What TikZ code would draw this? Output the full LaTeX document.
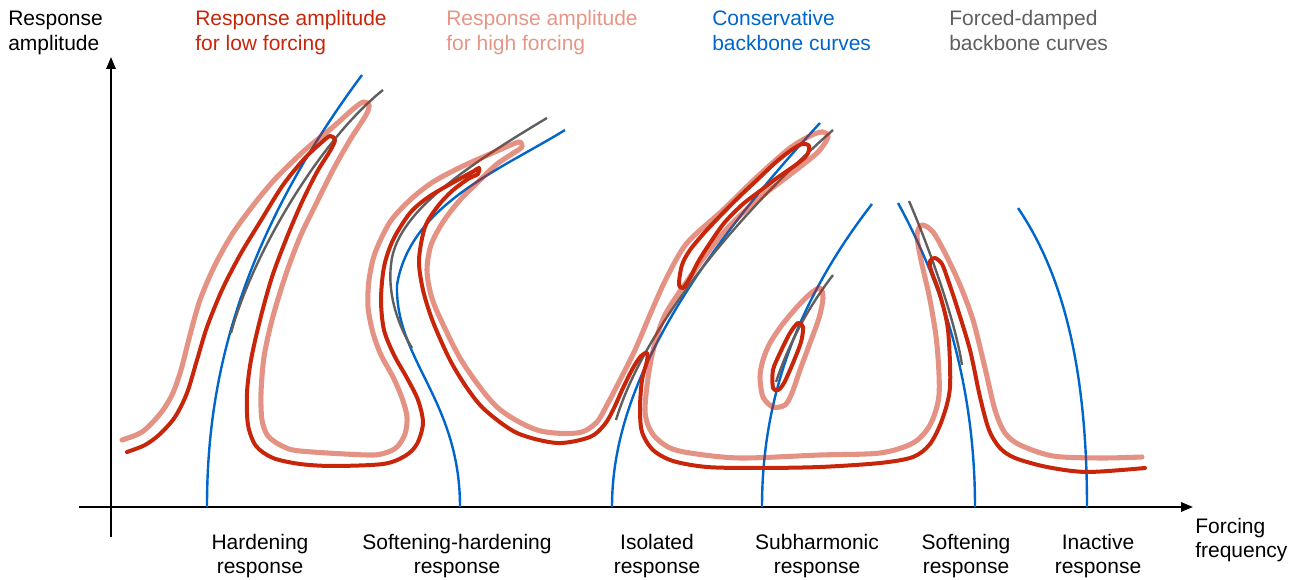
\documentclass[tikz,border=0pt]{standalone}
\usepackage{fontspec}
\setmainfont{Liberation Sans}
\usetikzlibrary{arrows.meta}
\definecolor{cred}{RGB}{200,38,10}
\definecolor{cpink}{RGB}{230,150,135}
\definecolor{cblue}{RGB}{0,102,204}
\definecolor{cgray}{RGB}{95,95,95}
\tikzset{
  lbl/.style={inner sep=0pt, font=\fontsize{15.75pt}{18pt}\selectfont},
  axisline/.style={line width=1.6pt, black, -{Triangle[length=9pt,width=7pt]}},
  lowresp/.style={line width=3pt, cred, line cap=round, line join=round},
  highresp/.style={line width=3.8pt, cred, draw opacity=0.5, line cap=round, line join=round},
  consbb/.style={line width=1.8pt, cblue},
  dampbb/.style={line width=1.8pt, cgray},
}
\begin{document}
\begin{tikzpicture}[x=0.75pt,y=-0.75pt]
\useasboundingbox (0,0) rectangle (1303,580);

% axes
\coordinate (yb) at (111,537);
\coordinate (yt) at (111,57);
\coordinate (xl) at (79,507);
\coordinate (xr) at (1193,507);
\draw[axisline] (yb) -- (yt);
\draw[axisline] (xl) -- (xr);

% conservative backbones
\coordinate (bh0) at (207,507); \coordinate (bh1) at (362,75);
\draw[consbb] (bh0) .. controls (207,400) and (228,255) .. (bh1);
\coordinate (bs0) at (460,507); \coordinate (bsm) at (397,285); \coordinate (bs1) at (565,130);
\draw[consbb] (bs1) .. controls (500,170) and (410,205) .. (bsm) .. controls (395,360) and (460,400) .. (bs0);
\coordinate (bi0) at (612,507); \coordinate (bi1) at (820,123);
\draw[consbb] (bi0) .. controls (612,420) and (652,305) .. (bi1);
\coordinate (bu0) at (762,507); \coordinate (bu1) at (872,204);
\draw[consbb] (bu0) .. controls (762,410) and (790,310) .. (bu1);
\coordinate (bf0) at (975,507); \coordinate (bf1) at (898,203);
\draw[consbb] (bf1) .. controls (940,280) and (975,380) .. (bf0);
\coordinate (bn0) at (1087,507); \coordinate (bn1) at (1018,208);
\draw[consbb] (bn1) .. controls (1060,270) and (1087,360) .. (bn0);

% forced-damped backbones
\coordinate (gh0) at (231,333); \coordinate (gh1) at (383,90);
\draw[dampbb] (gh0) .. controls (252,255) and (320,140) .. (gh1);
\coordinate (gs0) at (412,348); \coordinate (gsm) at (391,265); \coordinate (gs1) at (547,118);
\draw[dampbb] (gs0) .. controls (395,320) and (388,290) .. (gsm) .. controls (395,215) and (460,170) .. (gs1);
\coordinate (gi0) at (616,420); \coordinate (gi1) at (833,130);
\draw[dampbb] (gi0) .. controls (640,340) and (720,230) .. (gi1);
\coordinate (gu0) at (776,382); \coordinate (gu1) at (833,275);
\draw[dampbb] (gu0) .. controls (790,340) and (810,305) .. (gu1);
\coordinate (gf0) at (962,365); \coordinate (gf1) at (909,201);
\draw[dampbb] (gf1) .. controls (930,250) and (955,320) .. (gf0);

% high forcing response
\draw[highresp] plot[smooth] coordinates {(122,440) (142,432) (160,414) (172,395) (181,370) (190,335) (200,300) (215,265) (233,233) (255,203) (277,177) (305,150) (333,127) (352,110) (363,102) (369,105) (366,115) (350,140) (333,170) (317,202) (300,237) (285,277) (272,320) (264,357) (261,393) (262,420) (268,436) (282,446) (300,451) (367,455) (385,453) (397,447) (405,434) (407,417) (402,398) (393,377) (381,355) (373,333) (368,307) (369,280) (375,253) (390,222) (410,200) (433,182) (463,166) (497,151) (513,144) (520,142) (522,147) (512,154) (497,164) (480,180) (460,200) (443,222) (431,245) (427,270) (431,295) (440,318) (463,363) (497,407) (537,430) (577,433) (596,423) (608,403) (620,380) (635,350) (652,310) (667,277) (687,243) (723,210) (757,177) (790,148) (812,135) (823,132) (828,137) (817,153) (787,177) (757,200) (723,233) (690,277) (664,317) (651,360) (645,410) (652,433) (668,447) (690,453) (740,458) (820,455) (880,453) (913,443) (930,425) (939,395) (937,345) (930,300) (921,260) (917,235) (922,225) (933,232) (946,255) (960,285) (973,320) (985,368) (995,410) (1005,433) (1020,445) (1053,456) (1100,458) (1142,457)};
\draw[highresp] plot[smooth cycle] coordinates {(773,407) (763,397) (760,377) (763,360) (770,343) (782,325) (797,307) (810,294) (820,288) (823,298) (819,318) (810,343) (800,370) (792,393) (785,405)};

% low forcing response
\draw[lowresp] plot[smooth] coordinates {(127,452) (145,445) (160,434) (175,417) (187,393) (197,360) (207,327) (222,290) (240,255) (260,222) (283,185) (305,158) (322,142) (330,136) (335,140) (330,151) (317,172) (302,202) (287,237) (272,277) (260,320) (251,360) (247,393) (248,425) (256,446) (273,458) (300,464) (333,466) (383,464) (405,456) (417,444) (423,423) (418,400) (407,378) (394,355) (384,330) (381,300) (384,267) (393,240) (410,213) (430,196) (463,177) (474,171) (479,168) (478,174) (468,179) (452,191) (438,206) (425,227) (419,260) (423,290) (433,322) (450,360) (467,388) (485,410) (517,433) (557,443) (590,437) (605,424) (614,408) (623,388) (633,368) (641,356) (647,353) (647,361) (642,380) (640,408) (642,432) (653,450) (673,461) (707,467) (757,468) (820,467) (880,463) (913,457) (930,444) (942,420) (950,387) (948,330) (940,295) (931,270) (930,261) (935,258) (942,264) (948,280) (957,307) (970,350) (980,397) (989,430) (1000,448) (1015,458) (1047,467) (1087,472) (1145,468)};
\draw[lowresp] plot[smooth cycle] coordinates {(679,284) (682,265) (690,250) (705,232) (723,213) (740,196) (757,180) (775,163) (790,151) (802,144) (809,146) (807,155) (797,164) (777,178) (760,191) (743,204) (725,222) (710,243) (698,262) (690,278) (683,288)};
\draw[lowresp] plot[smooth cycle] coordinates {(773,388) (773,370) (780,353) (790,333) (798,323) (803,327) (801,342) (793,363) (784,383) (778,390)};

% legend texts
\node[lbl, anchor=base west] (ya1) at (8,26) {Response};
\node[lbl, anchor=base west] (ya2) at (8,51) {amplitude};
\node[lbl, anchor=base west, text=cred] (lo1) at (195,26) {Response amplitude};
\node[lbl, anchor=base west, text=cred] (lo2) at (195,51) {for low forcing};
\node[lbl, anchor=base west, text=cpink] (hi1) at (446,26) {Response amplitude};
\node[lbl, anchor=base west, text=cpink] (hi2) at (446,51) {for high forcing};
\node[lbl, anchor=base west, text=cblue] (cb1) at (712,26) {Conservative};
\node[lbl, anchor=base west, text=cblue] (cb2) at (712,51) {backbone curves};
\node[lbl, anchor=base west, text=cgray] (fd1) at (949,26) {Forced-damped};
\node[lbl, anchor=base west, text=cgray] (fd2) at (949,51) {backbone curves};
\node[lbl, anchor=base west] (xa1) at (1195,533) {Forcing};
\node[lbl, anchor=base west] (xa2) at (1195,557) {frequency};

% bottom labels
\node[lbl, anchor=base] (h1) at (260,550) {Hardening};
\node[lbl, anchor=base] (h2) at (260,574) {response};
\node[lbl, anchor=base] (sh1) at (457,550) {Softening-hardening};
\node[lbl, anchor=base] (sh2) at (457,574) {response};
\node[lbl, anchor=base] (is1) at (657,550) {Isolated};
\node[lbl, anchor=base] (is2) at (657,574) {response};
\node[lbl, anchor=base] (sb1) at (817,550) {Subharmonic};
\node[lbl, anchor=base] (sb2) at (817,574) {response};
\node[lbl, anchor=base] (so1) at (966,550) {Softening};
\node[lbl, anchor=base] (so2) at (966,574) {response};
\node[lbl, anchor=base] (in1) at (1098,550) {Inactive};
\node[lbl, anchor=base] (in2) at (1098,574) {response};
\end{tikzpicture}
\end{document}
